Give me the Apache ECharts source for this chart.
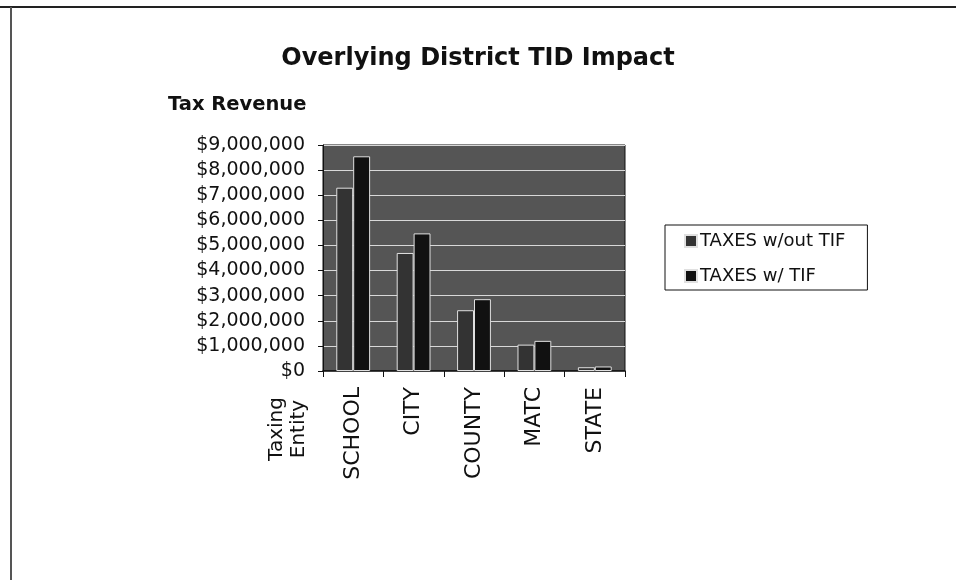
<!DOCTYPE html>
<html>
<head>
<meta charset="utf-8">
<script src="https://cdn.jsdelivr.net/npm/echarts@6/dist/echarts.min.js"></script>
<style>html,body{margin:0;padding:0;background:#fff;}#c{width:956px;height:580px;}</style>
</head>
<body>
<div id="c"></div>
<script>
var categories = ['SCHOOL', 'CITY', 'COUNTY', 'MATC', 'STATE'];
var seriesNames = ['TAXES w/out TIF', 'TAXES w/ TIF'];
var taxesWithoutTif = [7300000, 4700000, 2420000, 1050000, 150000];
var taxesWithTif = [8550000, 5480000, 2860000, 1200000, 180000];
var yTicks = [0, 1000000, 2000000, 3000000, 4000000, 5000000, 6000000, 7000000, 8000000, 9000000];

var chart = echarts.init(document.getElementById('c'), null, {renderer: 'canvas'});
var F = 'DejaVu Sans';
var option = {
  animation: false,
  backgroundColor: '#ffffff',
  title: {
    text: 'Overlying District TID Impact',
    left: 'center', top: 42,
    textStyle: {fontFamily: F, fontSize: 24, fontWeight: 'bold', color: '#111'}
  },
  legend: {
    orient: 'vertical',
    left: 665, top: 225,
    padding: [7, 22, 5, 19],
    itemGap: 17,
    itemWidth: 12, itemHeight: 12,
    icon: 'rect',
    borderColor: '#111', borderWidth: 1,
    textStyle: {fontFamily: F, fontSize: 18, color: '#111', padding: [0, 0, 0, -2]},
    data: seriesNames
  },
  grid: {left: 323, top: 145, width: 302, height: 226, show: true, backgroundColor: '#555555', borderColor: '#111', borderWidth: 1},
  xAxis: {
    type: 'category',
    data: categories,
    axisLine: {show: true, lineStyle: {color: '#111', width: 1.5}},
    axisTick: {show: true, length: 6, lineStyle: {color: '#111'}},
    axisLabel: {rotate: 90, margin: 16, fontFamily: F, fontSize: 22, color: '#111'}
  },
  yAxis: {
    type: 'value',
    min: 0, max: 9000000, interval: 1000000,
    axisLine: {show: true, lineStyle: {color: '#111'}},
    axisTick: {show: true, length: 5, lineStyle: {color: '#111'}},
    splitLine: {show: true, lineStyle: {color: '#d8d8d8', width: 1}},
    axisLabel: {
      margin: 18, fontFamily: F, fontSize: 19, color: '#111',
      formatter: function (v) { return '$' + v.toLocaleString('en-US'); }
    }
  },
  series: [
    {name: seriesNames[0], type: 'bar', data: taxesWithoutTif, barGap: '0%', barCategoryGap: '44%',
     itemStyle: {color: '#333333', borderColor: '#e0e0e0', borderWidth: 1}},
    {name: seriesNames[1], type: 'bar', data: taxesWithTif,
     itemStyle: {color: '#111111', borderColor: '#e0e0e0', borderWidth: 1}}
  ],
  graphic: [
    {type: 'line', shape: {x1: 0, y1: 7, x2: 956, y2: 7}, style: {stroke: '#222', lineWidth: 2}},
    {type: 'line', shape: {x1: 11, y1: 7, x2: 11, y2: 580}, style: {stroke: '#555', lineWidth: 2}},
    {type: 'text', left: 168, top: 95, style: {text: 'Tax Revenue', font: 'bold 19.5px "DejaVu Sans"', fill: '#111'}},
    {type: 'text', x: 288, y: 429, rotation: Math.PI / 2,
     style: {text: 'Taxing\nEntity', font: '20px "DejaVu Sans"', fill: '#111', align: 'center', verticalAlign: 'middle', lineHeight: 22}}
  ]
};
chart.setOption(option);
</script>
</body>
</html>
